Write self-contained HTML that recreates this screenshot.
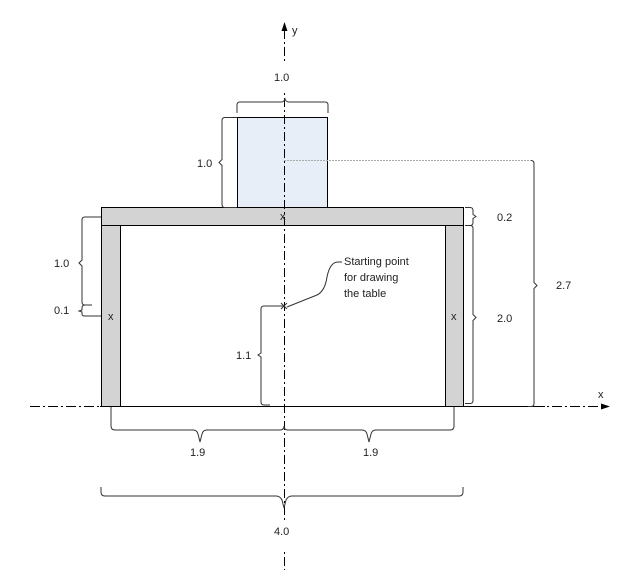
<!DOCTYPE html>
<html><head><style>body{margin:0;background:#fff}svg{display:block}text{font-family:"Liberation Sans",sans-serif;font-size:11px;fill:#222}</style></head><body>
<svg width="631" height="587" viewBox="0 0 631 587" xmlns="http://www.w3.org/2000/svg">
<rect x="237.5" y="117.5" width="90" height="90" fill="#e8eef7" stroke="#000"/>
<rect x="101.5" y="207.5" width="362" height="18" fill="#d3d3d3" stroke="#000"/>
<rect x="101.5" y="225.5" width="19" height="181" fill="#d3d3d3" stroke="#000"/>
<rect x="445.5" y="225.5" width="18" height="181" fill="#d3d3d3" stroke="#000"/>
<line x1="30" y1="406.5" x2="600" y2="406.5" stroke="#000" stroke-dasharray="10,3,2,3"/>
<line x1="100" y1="406.5" x2="545" y2="406.5" stroke="#000"/>
<polygon points="610,406.5 601,403.5 601,409.5" fill="#000"/>
<line x1="284.5" y1="30" x2="284.5" y2="570" stroke="#000" stroke-dasharray="9,3,2,3"/>
<rect x="282" y="64" width="5" height="28" fill="#fff"/>
<rect x="282" y="520" width="5" height="32" fill="#fff"/>
<polygon points="284.5,22 281.5,31 287.5,31" fill="#000"/>
<text x="292" y="34">y</text>
<text x="598" y="398">x</text>
<g font-size="10">
<text x="280" y="220">x</text><text x="108" y="320">x</text><text x="451" y="320">x</text>
</g>
<path d="M281,303 l6,6 M287,303 l-6,6" stroke="#333"/>
<g fill="none" stroke="#333" stroke-width="1">
<path d="M237,113 v-8 q0,-3 3,-3 h41 q3,0 4,-3 q1,3 4,3 h36 q3,0 3,3 v8"/>
<path d="M237,117.5 h-12 q-3,0 -3,3 v39 l-3,3 l3,3 v39 q0,3 3,3 h12"/>
<path d="M101,217 h-16 q-3,0 -3,3 v40 l-3,3 l3,3 v36 q0,3 3,3 h7"/>
<path d="M92,305 h-7 q-3,0 -3,3 v2 l-3,1 l3,1 v2 q0,2 3,2 h16"/>
<path d="M465,207.5 h5 q3,0 3,3 v4 l3,2 l-3,2 v4 q0,3 -3,3 h-5"/>
<path d="M465,225.5 h5 q3,0 3,3 v86 l3,3 l-3,3 v80 q0,3 -3,3 h-5"/>
<path d="M284,160.5 h247" stroke="#aaa" stroke-dasharray="2,1"/>
<path d="M531,160.5 q3,0 3,3 v119 l3,3 l-3,3 v115 q0,3 -3,3 h-3"/>
<path d="M284,306 h-20 q-3,0 -3,3 v44 l-3,2 l3,2 v45 q0,3 3,3 h6"/>
<path d="M111,407 v19 q0,4 4,4 h78 q4,0 5,4 l2,8 l2,-8 q1,-4 5,-4 h73 q4,0 4,-4 q0,4 4,4 h74 q4,0 5,4 l2,8 l2,-8 q1,-4 5,-4 h74 q4,0 4,-4 v-19"/>
<path d="M101,487 v5 q0,4 4,4 h171 q4,0 6,4 l2,8 l2,-8 q2,-4 6,-4 h167 q4,0 4,-4 v-5"/>
<path d="M287,307 l30,-12 q8,-4 10,-18 q3,-15 11,-15 h4"/>
</g>
<text x="274" y="81">1.0</text>
<text x="197" y="167">1.0</text>
<text x="54" y="267">1.0</text>
<text x="54" y="314">0.1</text>
<text x="497" y="221">0.2</text>
<text x="497" y="322">2.0</text>
<text x="556" y="289">2.7</text>
<text x="236" y="359">1.1</text>
<text x="190" y="456">1.9</text>
<text x="363" y="456">1.9</text>
<text x="274" y="535">4.0</text>
<text x="344" y="265">Starting point</text>
<text x="344" y="281">for drawing</text>
<text x="344" y="297">the table</text>
</svg>
</body></html>
